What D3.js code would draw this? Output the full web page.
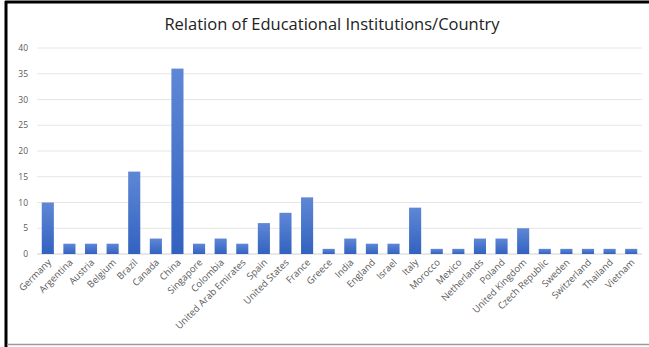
<!DOCTYPE html>
<html><head><meta charset="utf-8">
<script src="https://cdn.jsdelivr.net/npm/d3@7"></script>
<style>body{margin:0;background:#fff}svg{display:block}</style>
</head><body>
<script>
const categories = ["Germany","Argentina","Austria","Belgium","Brazil","Canada","China","Singapore","Colombia","United Arab Emirates","Spain","United States","France","Greece","India","England","Israel","Italy","Morocco","Mexico","Netherlands","Poland","United Kingdom","Czech Republic","Sweden","Switzerland","Thailand","Vietnam"];
const values = [10,2,2,2,16,3,36,2,3,2,6,8,11,1,3,2,2,9,1,1,3,3,5,1,1,1,1,1];
const yTicks = [0,5,10,15,20,25,30,35,40];
const title = "Relation of Educational Institutions/Country";

const W = 649, H = 347;
const svg = d3.select("body").append("svg").attr("width", W).attr("height", H);
const font = "'Open Sans', 'Noto Sans', sans-serif";

// frame
svg.append("rect").attr("x",0).attr("y",0).attr("width",W).attr("height",H).attr("fill","#fff");
svg.append("line").attr("x1",5).attr("x2",W).attr("y1",2).attr("y2",2).attr("stroke","#000").attr("stroke-width",3);
svg.append("line").attr("x1",6).attr("x2",6).attr("y1",1).attr("y2",H).attr("stroke","#000").attr("stroke-width",3);
svg.append("line").attr("x1",7).attr("x2",W).attr("y1",344.5).attr("y2",344.5).attr("stroke","#9a9a9a").attr("stroke-width",1.5);

const defs = svg.append("defs");
const g = defs.append("linearGradient").attr("id","barGrad").attr("x1",0).attr("x2",0).attr("y1",0).attr("y2",1);
g.append("stop").attr("offset","0%").attr("stop-color","#5f87d5");
g.append("stop").attr("offset","100%").attr("stop-color","#3262c0");

const x = d3.scaleBand().domain(categories).range([37, 642]).paddingInner(0.44).paddingOuter(0.22);
const y = d3.scaleLinear().domain([0, 40]).range([254, 48]);

// gridlines
svg.append("g").selectAll("line").data(yTicks).join("line")
  .attr("x1", 37).attr("x2", 642)
  .attr("y1", d => y(d)).attr("y2", d => y(d))
  .attr("stroke", d => d === 0 ? "#d0d0d0" : "#e6e6e6").attr("stroke-width", 1);

// y axis labels
const yAxis = d3.axisLeft(y).tickValues(yTicks).tickSize(0).tickPadding(9);
const ya = svg.append("g").attr("transform","translate(37,0)").call(yAxis);
ya.select(".domain").remove();
ya.selectAll("text").attr("font-family", font).attr("font-size", 8.5).attr("fill", "#595959");

// bars
svg.append("g").selectAll("rect").data(values).join("rect")
  .attr("x", (d,i) => x(categories[i]))
  .attr("width", x.bandwidth())
  .attr("y", d => y(d))
  .attr("height", d => y(0) - y(d))
  .attr("fill", "url(#barGrad)");

// x axis labels
const xAxis = d3.axisBottom(x).tickSize(0).tickPadding(0);
const xa = svg.append("g").attr("transform","translate(0,254)").call(xAxis);
xa.select(".domain").remove();
xa.selectAll("text")
  .attr("font-family", font).attr("font-size", 9.5).attr("fill", "#595959")
  .attr("text-anchor","end").attr("dy", 0)
  .attr("transform", "translate(4,9) rotate(-45)");

// title
svg.append("text").attr("x", 332).attr("y", 30).attr("text-anchor","middle")
  .attr("font-family", font).attr("font-size", 16.5).attr("fill","#222")
  .text(title);
</script>
</body></html>
